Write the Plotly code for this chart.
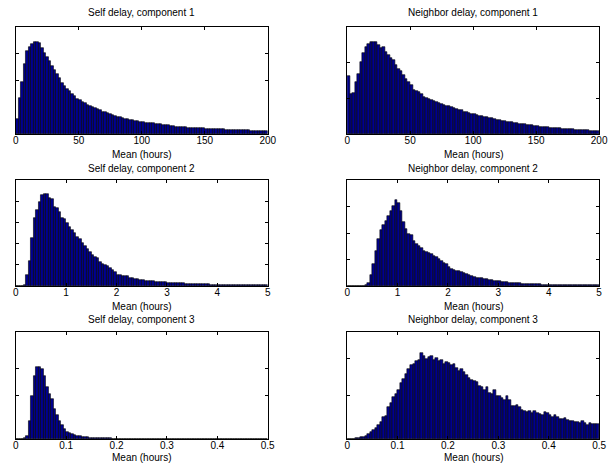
import numpy as np
import plotly.graph_objects as go

W, H = 616, 465

titles = ["Self delay, component 1", "Neighbor delay, component 1",
          "Self delay, component 2", "Neighbor delay, component 2",
          "Self delay, component 3", "Neighbor delay, component 3"]
xlabel = "Mean (hours)"

# bin layout per panel: (start, bin width, x-range max)
bin_start = [0, 0, 0, 0, 0, 0]
bin_width = [2, 2, 0.05, 0.05, 0.005, 0.005]
x_max = [200, 200, 5, 5, 0.5, 0.5]
x_ticks = [[0, 50, 100, 150, 200], [0, 50, 100, 150, 200],
           [0, 1, 2, 3, 4, 5], [0, 1, 2, 3, 4, 5],
           [0, 0.1, 0.2, 0.3, 0.4, 0.5], [0, 0.1, 0.2, 0.3, 0.4, 0.5]]
x_ticklabels = [["0", "50", "100", "150", "200"], ["0", "50", "100", "150", "200"],
                ["0", "1", "2", "3", "4", "5"], ["0", "1", "2", "3", "4", "5"],
                ["0", "0.1", "0.2", "0.3", "0.4", "0.5"], ["0", "0.1", "0.2", "0.3", "0.4", "0.5"]]
# counts are in percent of each panel's y-axis height (unlabelled axes)
y_max = [100, 100, 100, 100, 100, 100]
y_ticks = [[50, 75], [33.3, 66.7], [20, 40, 60, 80], [25, 50, 75], [41, 66], [41, 75.7]]

self_c1 = [14, 34, 49, 65, 78, 81, 84, 86, 86, 85,
           80, 76, 72, 68, 64, 60, 56, 52, 48, 45,
           42, 40, 37, 35.5, 33, 32, 30, 29, 27.5, 26,
           25, 24, 23, 22, 21, 20.5, 19.5, 18.5, 18, 17,
           16, 15.5, 15, 14, 14, 13, 13, 12, 12, 11.5,
           11, 10.5, 10.5, 10, 10, 9.5, 9, 9, 8.5, 8,
           8, 7.5, 7.5, 7, 7, 7, 6.5, 6.5, 6, 6,
           6, 6, 5.5, 5.5, 5.5, 5, 5, 5, 5, 4.5,
           4.5, 4.5, 4.5, 4, 4, 4, 4, 4, 3.5, 3.5,
           3.5, 3.5, 3.5, 3, 3, 3, 3, 3, 2.5, 2.5]

neigh_c1 = [54, 37, 38, 49, 56, 67, 76, 81, 84, 86,
            86, 86, 83, 80, 81, 77, 74, 71, 69.5, 64.5,
            61, 59, 55.5, 51, 49, 45.5, 41.5, 40.5, 39, 37,
            35, 34, 33, 32, 31, 30, 29, 28, 27.5, 26.5,
            26, 25, 24, 23.5, 22.5, 22, 21, 20.5, 20, 19,
            18.5, 18, 17, 16.5, 16, 15.5, 15, 14.5, 14, 13.5,
            13, 12.5, 12, 11.5, 11.5, 11, 10.5, 10, 9.5, 9,
            9, 8.5, 8.5, 8, 7.5, 7.5, 7, 7, 6.5, 6.5,
            6, 6, 5.5, 5.5, 5.5, 5, 5, 4.5, 4.5, 4.5,
            4, 4, 4, 3.5, 3.5, 3.5, 3, 3, 3, 3]

self_c2 = [0, 0, 0, 1, 10, 23.5, 45, 64, 72, 79,
           85.5, 87, 86.5, 83, 82, 75, 74, 70, 64, 63,
           59, 56, 53, 50, 46.5, 44, 41, 38, 35, 32,
           29, 27.5, 26, 23, 21, 20, 18.5, 17, 15, 13,
           10.5, 10, 9.5, 9, 9, 8, 7.5, 7, 6.5, 6,
           5.5, 5, 5, 4.5, 4.5, 4, 4, 3.5, 3.5, 3.5,
           3.2, 3, 3, 2.8, 2.6, 2.5, 2.4, 2.2, 2.1, 2,
           2, 1.9, 1.8, 1.7, 1.6, 1.5, 1.5, 1.4, 1.4, 1.3,
           1.3, 1.2, 1.2, 1.1, 1.1, 1.1, 1, 1, 1, 0.9,
           0.9, 0.9, 0.9, 0.8, 0.8, 0.8, 0.8, 0.7, 0.7, 0.7]

neigh_c2 = [0, 0, 0, 0, 0, 0, 0.3, 1, 2.5, 10,
            21, 33, 44, 53, 58, 61.5, 66, 71, 75.5, 81,
            78, 71, 60.5, 53.5, 49, 48, 42.5, 39.5, 38, 36,
            33, 32, 31, 30, 28.5, 27, 25.5, 24, 22, 20.5,
            17.5, 16.5, 15.5, 14.5, 14, 13, 12, 11, 10, 9.5,
            8.5, 8, 8, 7.5, 7, 6.5, 6, 5.5, 5, 4.8,
            4.4, 4.1, 3.8, 3.5, 3.3, 3.1, 3, 2.8, 2.5, 2.3,
            2.1, 2, 1.9, 1.8, 1.7, 1.6, 1.5, 1.4, 1.3, 1.3,
            1.2, 1.2, 1.1, 1.1, 1, 1, 1, 0.9, 0.9, 0.9,
            0.8, 0.8, 0.8, 0.8, 0.7, 0.7, 0.7, 0.7, 0.7, 0.6]

self_c3 = [0, 0, 0, 0.5, 3, 17, 40, 59, 67, 67,
           65, 59, 49, 42, 37, 28, 22, 17, 13, 9,
           7, 5.5, 4.6, 3.8, 3, 2.5, 2, 1.8, 1.5, 1.3,
           1.1, 1, 0.9, 0.8, 0.7, 0.6, 0.5, 0.5, 0.4, 0.4,
           0.3, 0.3, 0.3, 0.2, 0.2, 0.2, 0.2, 0.2, 0.1, 0.1,
           0.1, 0.1, 0.1, 0.1, 0.1, 0.1, 0.1, 0.1, 0.1, 0.1,
           0.1, 0.1, 0.1, 0.1, 0.1, 0.1, 0.1, 0.1, 0.1, 0.1,
           0.05, 0.05, 0.05, 0.05, 0.05, 0.05, 0.05, 0.05, 0.05, 0.05,
           0.05, 0.05, 0.05, 0.05, 0.05, 0.05, 0.05, 0.05, 0.05, 0.05,
           0.05, 0.05, 0.05, 0.05, 0.05, 0.05, 0.05, 0.05, 0.05, 0.05]

neigh_c3 = [0.2, 0.2, 0.3, 0.6, 1, 1.5, 2, 3, 4.6, 6.8,
            8.4, 10, 13.3, 16, 21, 21.7, 30, 34, 39, 42,
            46, 52, 56, 61, 65, 69, 70, 73, 74, 80,
            78, 75, 77, 78, 74, 76, 73, 74, 70, 72,
            71, 69, 70.5, 66.5, 64, 65, 62.5, 60, 57, 55,
            54, 53, 50, 49, 46, 49, 43, 42, 46, 40,
            40, 38, 36, 40, 36, 31, 31, 32, 30, 27,
            26, 25, 26, 24, 26, 24, 23, 22, 25, 24,
            22, 21, 22, 21, 19, 19, 20, 18, 17, 17,
            16, 16, 15, 16.5, 14.5, 13.5, 15, 14, 14, 14]

series = [self_c1, neigh_c1, self_c2, neigh_c2, self_c3, neigh_c3]

# axes boxes in pixels (left, right, top, bottom)
cols = [(13, 270), (351, 608)]
rows = [(27, 134), (180, 286), (332, 439)]
title_y = [13, 168, 319]
xlabel_y = [155, 306, 457]

FONT = dict(size=10, color="black", family="Liberation Sans, Arial")

fig = go.Figure()
annotations = []
for i, vals in enumerate(series):
    r, c = divmod(i, 2)
    n = len(vals)
    edges = bin_start[i] + bin_width[i] * np.arange(n + 1)
    centers = (edges[:-1] + edges[1:]) / 2
    ax = "" if i == 0 else str(i + 1)
    fig.add_trace(go.Bar(x=centers, y=vals, width=bin_width[i],
                         marker=dict(color="#00008F", line=dict(color="black", width=0.6)),
                         xaxis="x" + ax, yaxis="y" + ax, showlegend=False,
                         hoverinfo="x+y"))
    l, rr = cols[c]
    t, b = rows[r]
    xd = [l / W, rr / W]
    yd = [1 - b / H, 1 - t / H]
    common = dict(showline=True, linecolor="black", linewidth=1, mirror="ticks",
                  ticks="inside", ticklen=3, tickcolor="black", tickwidth=1,
                  showgrid=False, zeroline=False)
    fig.update_layout(**{
        "xaxis" + ax: dict(domain=xd, range=[bin_start[i], x_max[i]], anchor="y" + ax,
                           tickvals=x_ticks[i], ticktext=x_ticklabels[i],
                           tickfont=FONT, ticklabelstandoff=-3,
                           **common),
        "yaxis" + ax: dict(domain=yd, range=[0, y_max[i]], anchor="x" + ax,
                           tickvals=y_ticks[i], showticklabels=False, **common),
    })
    xc = (l + rr) / 2 / W
    annotations.append(dict(text=titles[i], x=xc, y=1 - title_y[r] / H, xref="paper", yref="paper",
                            xanchor="center", yanchor="middle", showarrow=False, font=FONT))
    annotations.append(dict(text=xlabel, x=xc, y=1 - xlabel_y[r] / H, xref="paper", yref="paper",
                            xanchor="center", yanchor="middle", showarrow=False, font=FONT))

fig.update_layout(width=W, height=H, margin=dict(l=0, r=0, t=0, b=0),
                  paper_bgcolor="white", plot_bgcolor="white", bargap=0,
                  annotations=annotations, font=FONT)
fig.write_html("out.html")
